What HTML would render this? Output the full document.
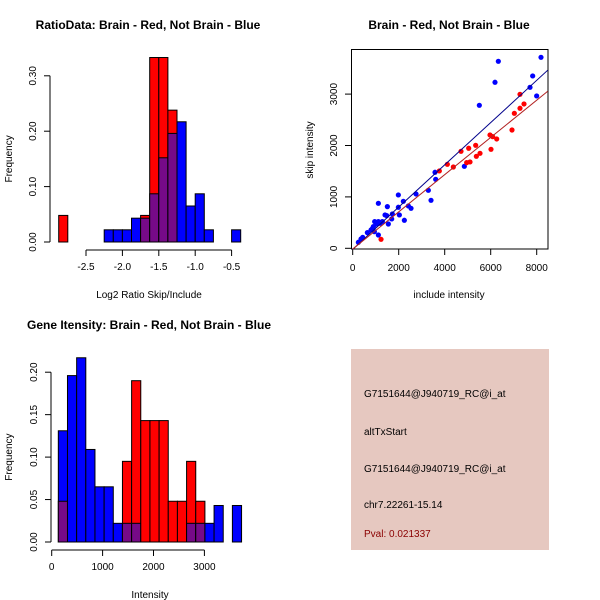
<!DOCTYPE html>
<html><head><meta charset="utf-8"><style>
body{margin:0;background:#fff}
svg{display:block;font-family:"Liberation Sans",sans-serif}
</style></head><body>
<svg id="c" width="600" height="600" xmlns="http://www.w3.org/2000/svg">
<rect width="600" height="600" fill="#fff"/>
<text x="148" y="29" font-size="12" font-weight="bold" text-anchor="middle">RatioData: Brain - Red, Not Brain - Blue</text>
<text x="449" y="29" font-size="12" font-weight="bold" text-anchor="middle">Brain - Red, Not Brain - Blue</text>
<text x="149" y="329" font-size="12" font-weight="bold" text-anchor="middle">Gene Itensity: Brain - Red, Not Brain - Blue</text>
<rect x="351" y="349" width="198" height="201" fill="#e6c8c0"/>
<g font-size="10">
<text x="364" y="397">G7151644@J940719_RC@i_at</text>
<text x="364" y="435">altTxStart</text>
<text x="364" y="472">G7151644@J940719_RC@i_at</text>
<text x="364" y="508">chr7.22261-15.14</text>
<text x="364" y="537" fill="#8b0000">Pval: 0.021337</text>
</g>
<g id="h1"></g><g id="h2"></g><g id="sc"></g>
</svg>
<script>
// Histogram 1 data
const h1Start = -2.875, h1Width = 0.125;
const h1Red = [0.048,0,0,0,0,0,0,0,0,0.048,0.333,0.333,0.238,0,0,0,0,0,0,0];
const h1Blue = [0,0,0,0,0,0.022,0.022,0.022,0.043,0.043,0.087,0.152,0.196,0.217,0.065,0.087,0.022,0,0,0.022];
const h1XTicks = [-2.5,-2.0,-1.5,-1.0,-0.5];
const h1XLabels = ["-2.5","-2.0","-1.5","-1.0","-0.5"];
const h1YTicks = [0,0.1,0.2,0.3];
const h1YLabels = ["0.00","0.10","0.20","0.30"];
// Histogram 2 data
const h2Start = 130, h2Width = 180;
const h2Red = [0.048,0,0,0,0,0,0,0.095,0.19,0.143,0.143,0.143,0.048,0.048,0.095,0.048,0,0,0,0];
const h2Blue = [0.131,0.196,0.217,0.109,0.065,0.065,0.022,0.022,0.022,0,0,0,0,0,0.022,0.022,0.022,0.043,0,0.043];
const h2XTicks = [0,1000,2000,3000];
const h2XLabels = ["0","1000","2000","3000"];
const h2YTicks = [0,0.05,0.1,0.15,0.2];
const h2YLabels = ["0.00","0.05","0.10","0.15","0.20"];
// Scatter data
const blueX = [246,362,435,638,797,855,898,956,942,1043,1116,1116,1116,1188,1290,1406,1478,1507,1550,1695,1724,1985,1985,2029,2202,2246,2420,2536,2753,3289,3405,3579,3608,4854,5506,6187,6332,7709,7825,7998,8187];
const blueY = [117,182,214,305,357,383,422,519,324,473,519,875,259,486,519,649,636,811,473,571,668,1038,798,649,914,545,824,778,1057,1128,934,1479,1342,1595,2782,3230,3638,3132,3353,2964,3716];
const redX = [1232,3767,4115,4376,4709,4956,5043,5100,5347,5376,5535,5970,6013,6086,6260,6926,7028,7274,7448,7274];
const redY = [175,1505,1634,1582,1887,1667,1946,1680,2004,1790,1848,2205,1926,2172,2127,2302,2626,2724,2808,2996];
const fitIntercept = [-20, -15];   // blue, red
const fitSlope = [0.411, 0.362];
const scXTicks = [0,2000,4000,6000,8000];
const scYTicks = [0,1000,2000,3000];

const NS="http://www.w3.org/2000/svg";
function mk(parent,tag,attrs){const e=document.createElementNS(NS,tag);for(const k in attrs)e.setAttribute(k,attrs[k]);parent.appendChild(e);return e;}

function hist(g,o){
  const sx=v=>o.x0px+(v-o.x0)*o.kx, sy=v=>o.y0px-v*o.ky;
  for(let i=0;i<o.red.length;i++){
    const a=o.start+i*o.width, b=a+o.width, r=o.red[i], bl=o.blue[i];
    const x1=sx(a), w=sx(b)-sx(a);
    const hi=Math.max(r,bl), lo=Math.min(r,bl);
    if(hi>0){
      const e=mk(g,'rect',{x:x1,y:sy(hi),width:w,height:sy(0)-sy(hi),fill:r>=bl?'#ff0000':'#0000ff',stroke:'#000','stroke-width':1});
      
      
    }
    if(lo>0){
      const e=mk(g,'rect',{x:x1,y:sy(lo),width:w,height:sy(0)-sy(lo),fill:'#760a88',stroke:'#000','stroke-width':1});
      
      
    }
  }
  // y axis
  const ya=mk(g,'line',{x1:o.yax,x2:o.yax,y1:sy(o.yt[0]),y2:sy(o.yt[o.yt.length-1]),stroke:'#000'});
  
  o.yt.forEach((v,i)=>{
    mk(g,'line',{x1:o.yax-6,x2:o.yax,y1:sy(v),y2:sy(v),stroke:'#000'});
    const t=mk(g,'text',{x:o.yax-14,y:sy(v),'font-size':10,'text-anchor':'middle',transform:`rotate(-90 ${o.yax-14} ${sy(v)})`});
    t.textContent=o.yl[i];
    
    
  });
  const xa=mk(g,'line',{x1:sx(o.xt[0]),x2:sx(o.xt[o.xt.length-1]),y1:o.xax,y2:o.xax,stroke:'#000'});
  
  o.xt.forEach((v,i)=>{
    mk(g,'line',{x1:sx(v),x2:sx(v),y1:o.xax,y2:o.xax+6,stroke:'#000'});
    const t=mk(g,'text',{x:sx(v),y:o.xax+20,'font-size':10,'text-anchor':'middle'});
    t.textContent=o.xl[i];
    
    
  });
  const xt=mk(g,'text',{x:o.xlabX,y:o.xax+48,'font-size':10,'text-anchor':'middle'});
  xt.textContent=o.xlab;
  
  
  const cy=(sy(0)+sy(o.yt[o.yt.length-1]))/2;
  const yt=mk(g,'text',{x:12,y:cy,'font-size':10,'text-anchor':'middle',transform:`rotate(-90 12 ${cy})`});
  yt.textContent='Frequency';
  
  
}
hist(document.getElementById('h1'),{start:h1Start,width:h1Width,red:h1Red,blue:h1Blue,x0:-2.5,x0px:86,kx:72.8,y0px:242,ky:554,yax:50,xax:250,xt:h1XTicks,xl:h1XLabels,yt:h1YTicks,yl:h1YLabels,xlab:'Log2 Ratio Skip/Include',xlabX:149});
hist(document.getElementById('h2'),{start:h2Start,width:h2Width,red:h2Red,blue:h2Blue,x0:0,x0px:51.7,kx:0.0509,y0px:542,ky:849,yax:51,xax:550,xt:h2XTicks,xl:h2XLabels,yt:h2YTicks,yl:h2YLabels,xlab:'Intensity',xlabX:150});

// scatter
(function(){
  const g=document.getElementById('sc');
  const sx=v=>352.7+v*0.023, sy=v=>248.3-v*0.0514;
  const box=mk(g,'rect',{x:351.5,y:49.5,width:196.5,height:199.5,fill:'none',stroke:'#000'});
  
  scXTicks.forEach(v=>{
    mk(g,'line',{x1:sx(v),x2:sx(v),y1:249,y2:255,stroke:'#000'});
    const t=mk(g,'text',{x:sx(v),y:271,'font-size':10,'text-anchor':'middle'});t.textContent=v;
    
    
  });
  scYTicks.forEach(v=>{
    mk(g,'line',{x1:345,x2:351.5,y1:sy(v),y2:sy(v),stroke:'#000'});
    const t=mk(g,'text',{x:337,y:sy(v),'font-size':10,'text-anchor':'middle',transform:`rotate(-90 337 ${sy(v)})`});t.textContent=v;
    
    
  });
  const xt=mk(g,'text',{x:449,y:298,'font-size':10,'text-anchor':'middle'});xt.textContent='include intensity';
  
  const yt=mk(g,'text',{x:313,y:150,'font-size':10,'text-anchor':'middle',transform:'rotate(-90 313 150)'});yt.textContent='skip intensity';
  
  const cols=['#0000ff','#ff0000'];
  const xs=[blueX,redX], ys=[blueY,redY];
  for(let s=0;s<2;s++){
    for(let i=0;i<xs[s].length;i++){
      const c=mk(g,'circle',{cx:sx(xs[s][i]),cy:sy(ys[s][i]),r:2.6,fill:cols[s]});
      
      
    }
  }
  const lc=['#00008b','#b22222'];
  for(let s=0;s<2;s++){
    const xa=0, xb=8480;
    const l=mk(g,'line',{x1:sx(xa),y1:sy(fitIntercept[s]+fitSlope[s]*xa),x2:sx(xb),y2:sy(fitIntercept[s]+fitSlope[s]*xb),stroke:lc[s],'stroke-width':1});
    
    
  }
})();
</script>
</body></html>
